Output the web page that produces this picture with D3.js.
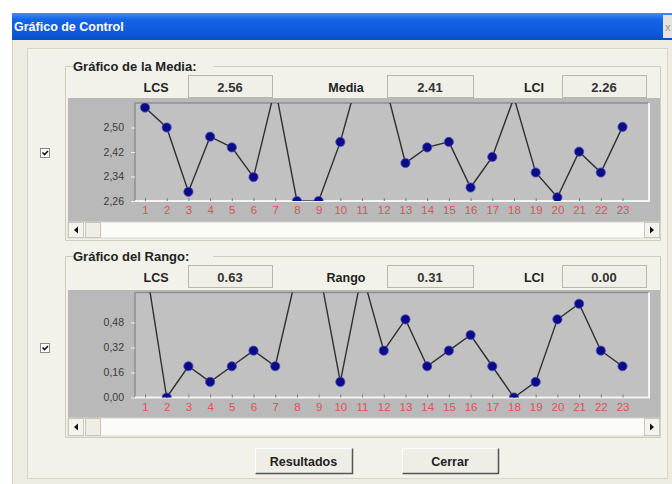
<!DOCTYPE html>
<html><head><meta charset="utf-8">
<script src="https://cdn.jsdelivr.net/npm/d3@7"></script>
<style>
body{margin:0;background:#fff}
svg{display:block;font-family:"Liberation Sans",Arial,sans-serif}
</style>
</head><body>
<svg id="c" width="672" height="484"></svg>
<script>
// ---- data ----
const categories = [1,2,3,4,5,6,7,8,9,10,11,12,13,14,15,16,17,18,19,20,21,22,23];
const mediaValues = [2.565,2.50,2.29,2.47,2.435,2.338,2.63,2.26,2.26,2.453,2.71,2.66,2.384,2.435,2.453,2.304,2.404,2.598,2.353,2.272,2.421,2.353,2.502];
const rangoValues = [0.88,0.00,0.20,0.10,0.20,0.30,0.20,0.80,0.84,0.10,0.80,0.30,0.50,0.20,0.30,0.40,0.20,0.00,0.10,0.50,0.60,0.30,0.20];
const mediaTicks = [2.26,2.34,2.42,2.50];
const rangoTicks = [0.00,0.16,0.32,0.48];
const mediaDomain = [2.26,2.58];
const rangoDomain = [0,0.672];
const mediaStats = [["LCS","2.56"],["Media","2.41"],["LCI","2.26"]];
const rangoStats = [["LCS","0.63"],["Rango","0.31"],["LCI","0.00"]];
const titles = ["Gráfico de Control","Gráfico de la Media:","Gráfico del Rango:"];
const buttons = ["Resultados","Cerrar"];

const svg = d3.select("#c");
const defs = svg.append("defs");
const g1 = defs.append("linearGradient").attr("id","tb").attr("x1",0).attr("y1",0).attr("x2",0).attr("y2",1);
g1.append("stop").attr("offset","0%").attr("stop-color","#3f8cf3");
g1.append("stop").attr("offset","25%").attr("stop-color","#1664e6");
g1.append("stop").attr("offset","80%").attr("stop-color","#0b58d8");
g1.append("stop").attr("offset","100%").attr("stop-color","#0a4fc4");

// window
svg.append("rect").attr("x",12).attr("y",13).attr("width",660).attr("height",471).attr("fill","#eeece1");
svg.append("rect").attr("x",12).attr("y",13).attr("width",660).attr("height",27).attr("fill","url(#tb)");
svg.append("text").attr("x",14).attr("y",31).attr("fill","#fff").attr("font-weight","bold")
  .attr("font-size",12.5).text(titles[0]);
svg.append("rect").attr("x",663).attr("y",15).attr("width",10).attr("height",23).attr("fill","#e6e4da");
svg.append("text").attr("x",665).attr("y",31).attr("fill","#999").attr("font-size",11).text("x");
svg.append("line").attr("x1",12.5).attr("x2",12.5).attr("y1",40).attr("y2",484).attr("stroke","#d6d3c4");
// inner panel
svg.append("rect").attr("x",27.5).attr("y",48.5).attr("width",640).attr("height",430)
  .attr("fill","#f3f2ea").attr("stroke","#d9d6c8");

const x = d3.scaleLinear().domain([0.54,24.22]).range([135,649]);

const panels = [
  {title:titles[1], values:mediaValues, ticks:mediaTicks, domain:mediaDomain, stats:mediaStats,
   gy:66, gb:240, hy:87, grayY:98, grayH:124, pTop:103, pBot:201, sy:222, sh:16, cb:148},
  {title:titles[2], values:rangoValues, ticks:rangoTicks, domain:rangoDomain, stats:rangoStats,
   gy:256, gb:437, hy:277, grayY:290, grayH:128, pTop:292.5, pBot:397.5, sy:418, sh:18, cb:343}
];

const statX = [{lx:156, bx:188, bw:84},{lx:346, bx:387, bw:86},{lx:534, bx:562, bw:84}];

panels.forEach((p,pi)=>{
  const g = svg.append("g");
  const titleW = 140;
  g.append("path").attr("d",`M73,${p.gy+0.5} H65.5 V${p.gb+0.5} H660.5 V${p.gy+0.5} H${73+titleW}`)
    .attr("fill","none").attr("stroke","#cfccbe");
  g.append("text").attr("x",73).attr("y",p.gy+5).attr("font-weight","bold").attr("font-size",13)
    .attr("fill","#222").text(p.title);
  p.stats.forEach((s,i)=>{
    const sx = statX[i];
    g.append("text").attr("x",sx.lx).attr("y",p.hy+4.5).attr("text-anchor","middle")
      .attr("font-weight","bold").attr("font-size",12.5).attr("fill","#222").text(s[0]);
    g.append("rect").attr("x",sx.bx+0.5).attr("y",p.hy-11.5).attr("width",sx.bw).attr("height",22)
      .attr("fill","#f1f0e8").attr("stroke","#b9b7aa");
    g.append("text").attr("x",sx.bx+sx.bw/2).attr("y",p.hy+5).attr("text-anchor","middle")
      .attr("font-weight","bold").attr("font-size",13).attr("fill","#333").text(s[1]);
  });
  g.append("rect").attr("x",68).attr("y",p.grayY).attr("width",592).attr("height",p.grayH).attr("fill","#b9b9b9");
  g.append("rect").attr("x",135).attr("y",p.pTop).attr("width",514).attr("height",p.pBot-p.pTop).attr("fill","#c1c1c1");
  g.append("path").attr("d",`M135,${p.pBot} V${p.pTop} H649`).attr("fill","none").attr("stroke","#8e8e8e").attr("stroke-width",1.5);
  g.append("path").attr("d",`M135,${p.pBot} H649 V${p.pTop}`).attr("fill","none").attr("stroke","#f4f4f4").attr("stroke-width",2);

  const y = d3.scaleLinear().domain(p.domain).range([p.pBot,p.pTop]);

  const ya = g.append("g").attr("transform","translate(135,0)")
    .call(d3.axisLeft(y).tickValues(p.ticks).tickSize(4).tickPadding(7)
      .tickFormat(d=>d3.format(".2f")(d).replace(".",",")));
  ya.select(".domain").remove();
  ya.selectAll("line").attr("stroke","#eeeeee");
  ya.selectAll("text").attr("fill","#3a3a3a").attr("font-size",10.5).attr("font-family","Liberation Sans, Arial");

  const xa = g.append("g").attr("transform",`translate(0,${p.pBot})`)
    .call(d3.axisBottom(x).tickValues(categories).tickSizeInner(-3).tickSizeOuter(0).tickPadding(5).tickFormat(d3.format("d")));
  xa.select(".domain").remove();
  xa.selectAll("line").attr("stroke","#7a7a7a");
  xa.selectAll("text").attr("fill","#e0505a").attr("font-size",11.5).attr("font-family","Liberation Sans, Arial");

  const cid = "clip"+pi;
  defs.append("clipPath").attr("id",cid).append("rect")
    .attr("x",135).attr("y",p.pTop).attr("width",514).attr("height",p.pBot-p.pTop);
  const pg = g.append("g").attr("clip-path",`url(#${cid})`);
  const line = d3.line().x((d,i)=>x(categories[i])).y(d=>y(d));
  pg.append("path").datum(p.values).attr("d",line).attr("fill","none").attr("stroke","#2f2f2f").attr("stroke-width",1.4);
  pg.selectAll("circle").data(p.values).join("circle")
    .attr("cx",(d,i)=>x(categories[i])).attr("cy",d=>y(d)).attr("r",4.6)
    .attr("fill","#0c0c86").attr("stroke","#4a4ac0").attr("stroke-width",0.8);

  g.append("rect").attr("x",68).attr("y",p.sy).attr("width",592).attr("height",p.sh).attr("fill","#fbfbf7").attr("stroke","#d8d6cb");
  g.append("rect").attr("x",68.5).attr("y",p.sy+0.5).attr("width",15).attr("height",p.sh-1).attr("fill","#f4f3ee").attr("stroke","#c9c7bb");
  g.append("rect").attr("x",85.5).attr("y",p.sy+0.5).attr("width",15).attr("height",p.sh-1).attr("fill","#efeee6").attr("stroke","#c9c7bb");
  g.append("rect").attr("x",644.5).attr("y",p.sy+0.5).attr("width",15).attr("height",p.sh-1).attr("fill","#f4f3ee").attr("stroke","#c9c7bb");
  const cy = p.sy+p.sh/2;
  g.append("path").attr("d",`M74,${cy} L78,${cy-3.5} L78,${cy+3.5} Z`).attr("fill","#111");
  g.append("path").attr("d",`M654,${cy} L650,${cy-3.5} L650,${cy+3.5} Z`).attr("fill","#111");

  g.append("rect").attr("x",40.5).attr("y",p.cb+0.5).attr("width",9).attr("height",9).attr("fill","#fff").attr("stroke","#8a8a8a");
  g.append("path").attr("d",`M42.5,${p.cb+4.5} L44.5,${p.cb+6.5} L48,${p.cb+3}`).attr("fill","none").attr("stroke","#111").attr("stroke-width",1.6);
});

const bx = [{x:255,w:97},{x:402,w:96}];
buttons.forEach((b,i)=>{
  const r = bx[i];
  svg.append("rect").attr("x",r.x+0.5).attr("y",448.5).attr("width",r.w).attr("height",25).attr("fill","#efeee6").attr("stroke","#fff");
  svg.append("path").attr("d",`M${r.x+0.5},${473.5} H${r.x+r.w+0.5} V448.5`).attr("fill","none").attr("stroke","#555").attr("stroke-width",1.5);
  svg.append("text").attr("x",r.x+r.w/2).attr("y",466).attr("text-anchor","middle").attr("font-weight","bold")
    .attr("font-size",12.5).attr("fill","#222").text(b);
});
</script>
</body></html>
